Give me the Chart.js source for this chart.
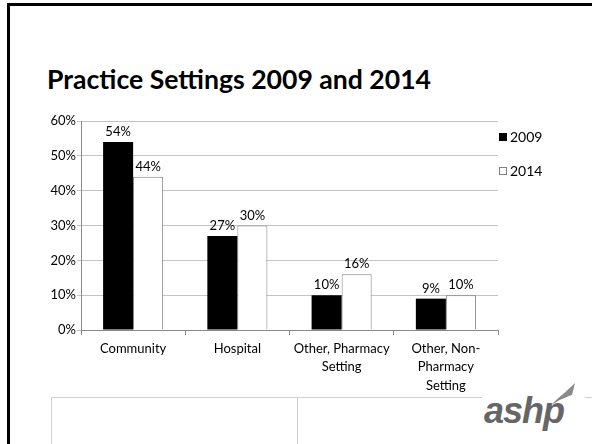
<!DOCTYPE html>
<html>
<head>
<meta charset="utf-8">
<script src="https://cdn.jsdelivr.net/npm/chart.js@4"></script>
<style>
  html, body { margin:0; padding:0; background:#fff; }
  body { width:592px; height:444px; position:relative; overflow:hidden; font-family: Lato, "Liberation Sans", sans-serif; }
  #frame { position:absolute; left:7px; top:3px; width:700px; height:600px; border-left:3px solid #000; border-top:3px solid #000; box-sizing:border-box; }
  #title { position:absolute; left:47px; top:63px; font-family: Lato, sans-serif; font-weight:700; font-size:26.6px; line-height:32px; color:#000; white-space:nowrap; }
  #chartWrap { position:absolute; left:0; top:100px; width:592px; height:300px; }
  #legend { position:absolute; left:499px; top:128px; font-family: Lato, sans-serif; font-size:14px; color:#000; }
  .li { height:34px; display:flex; align-items:flex-start; }
  .sw { width:8px; height:8px; box-sizing:border-box; margin-top:5px; margin-right:3px; }
  #tbl { position:absolute; left:51px; top:397px; width:600px; height:60px; border-left:1px solid #d0d0d0; border-top:1px solid #d0d0d0; }
  #tblv { position:absolute; left:297px; top:397px; width:1px; height:60px; background:#d0d0d0; }
  #logo { position:absolute; left:482px; top:378px; width:103px; height:66px; background:#fff; }
  #logoText { position:absolute; left:2px; top:15px; font-family:"Liberation Sans", Arial, sans-serif; font-weight:700; font-style:italic; font-size:36px; line-height:36px; color:#666; letter-spacing:-1px; }
  #swoosh { position:absolute; left:66px; top:4px; }
</style>
</head>
<body>
<div id="frame"></div>
<div id="title">Practice Settings 2009 and 2014</div>
<div id="chartWrap"><canvas id="c" width="592" height="300"></canvas></div>
<div id="legend"></div>
<div id="tbl"></div>
<div id="tblv"></div>
<div id="logo">
  <div id="logoText">ashp</div>
  <svg id="swoosh" width="30" height="28" viewBox="0 0 30 28"><path d="M2 24 C10 16, 18 10, 27 1 L24 13 C18 15, 9 19, 2 24 Z" fill="#8a8a8a"/></svg>
</div>
<script>
const categories = [["Community"], ["Hospital"], ["Other, Pharmacy", "Setting"], ["Other, Non-", "Pharmacy", "Setting"]];
const seriesNames = ["2009", "2014"];
const values2009 = [54, 27, 10, 9];
const values2014 = [44, 30, 16, 10];
const yTicks = [0, 10, 20, 30, 40, 50, 60];

const fills = ["#000000", "#ffffff"];
const borders = ["#000000", "#808080"];

// legend
const lg = document.getElementById('legend');
seriesNames.forEach((n, i) => {
  const d = document.createElement('div'); d.className = 'li';
  const s = document.createElement('div'); s.className = 'sw';
  s.style.background = fills[i]; s.style.border = '1px solid ' + borders[i];
  const t = document.createElement('span'); t.textContent = n;
  d.appendChild(s); d.appendChild(t); lg.appendChild(d);
});

const dataLabels = {
  id: 'dataLabels',
  afterDatasetsDraw(chart) {
    const ctx = chart.ctx;
    ctx.save();
    ctx.font = '13px Lato';
    ctx.fillStyle = '#000';
    ctx.textAlign = 'center';
    ctx.textBaseline = 'alphabetic';
    chart.data.datasets.forEach((ds, di) => {
      const meta = chart.getDatasetMeta(di);
      meta.data.forEach((bar, i) => {
        ctx.fillText(ds.data[i] + '%', bar.x, bar.y - 6);
      });
    });
    ctx.restore();
  }
};

new Chart(document.getElementById('c'), {
  type: 'bar',
  data: {
    labels: categories,
    datasets: [
      { label: seriesNames[0], data: values2009, backgroundColor: fills[0], borderColor: borders[0], borderWidth: 0 },
      { label: seriesNames[1], data: values2014, backgroundColor: fills[1], borderColor: borders[1], borderWidth: 1 }
    ]
  },
  options: {
    responsive: false,
    animation: false,
    devicePixelRatio: 1,
    layout: { padding: { left: 0, right: 94, top: 21, bottom: 0 } },
    categoryPercentage: 0.576,
    barPercentage: 1,
    plugins: { legend: { display: false }, tooltip: { enabled: false }, title: { display: false } },
    scales: {
      x: {
        afterFit(s) { s.height = 70; },
        grid: { display: true, drawOnChartArea: false, drawTicks: true, tickLength: 5, color: '#888', offset: true },
        border: { display: true, color: '#888' },
        ticks: { font: { family: 'Lato', size: 13, lineHeight: 1.4 }, color: '#000', padding: 5, maxRotation: 0, autoSkip: false }
      },
      y: {
        min: 0, max: 60,
        afterFit(s) { s.width = 81; },
        afterBuildTicks(s) { s.ticks = yTicks.map(v => ({ value: v })); },
        grid: { color: '#c4c4c4', tickLength: 4, drawTicks: true },
        border: { display: true, color: '#888' },
        ticks: { font: { family: 'Lato', size: 13 }, color: '#000', padding: 1, callback: v => v + '%' }
      }
    }
  },
  plugins: [dataLabels]
});
</script>
</body>
</html>
